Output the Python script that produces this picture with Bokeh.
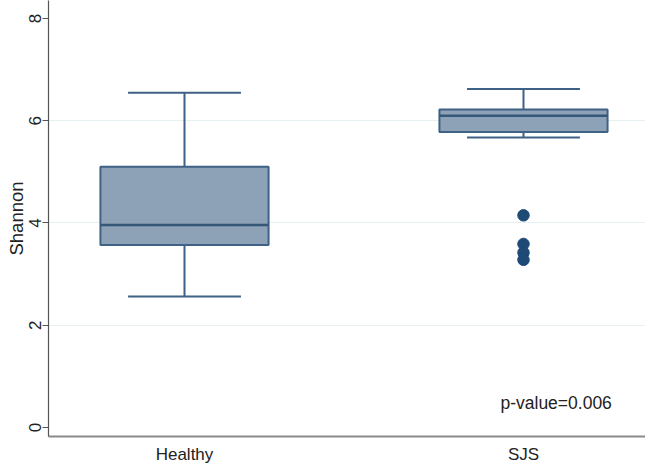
from bokeh.plotting import figure
from bokeh.models import FixedTicker, Range1d, ColumnDataSource
from bokeh.core.properties import value
from bokeh.embed import file_html
from bokeh.resources import INLINE

# ---- data ----
categories = ["Healthy", "SJS"]
whisker_low = [2.56, 5.67]
q1 = [3.57, 5.78]
median = [3.96, 6.10]
q3 = [5.10, 6.22]
whisker_high = [6.55, 6.62]
outlier_group = ["SJS", "SJS", "SJS", "SJS"]
outlier_values = [4.15, 3.59, 3.42, 3.28]
y_ticks = [0, 2, 4, 6, 8]
annotation = "p-value=0.006"

FONT = "Liberation Sans"
LINE = "#3f6185"
FILL = "#8da2b7"
DOT = "#1e4a75"
TXT = "#222222"

pos = {c: i + 1 for i, c in enumerate(categories)}
xs = [pos[c] for c in categories]

p = figure(frame_width=597, frame_height=436, output_backend="svg", toolbar_location=None,
           x_range=Range1d(0.5988, 2.3599), y_range=Range1d(-0.176, 8.352),
           min_border_left=48, min_border_right=0, min_border_top=0, min_border_bottom=22)
p.outline_line_color = None
p.background_fill_color = "white"
p.border_fill_color = "white"

box_w = 0.496
cap_w = 0.333
src = ColumnDataSource(dict(
    x=xs, lo=whisker_low, q1=q1, med=median, q3=q3, hi=whisker_high,
    cl=[x - cap_w / 2 for x in xs], cr=[x + cap_w / 2 for x in xs],
    bl=[x - box_w / 2 for x in xs], br=[x + box_w / 2 for x in xs]))

# whiskers
p.segment(x0="x", y0="q3", x1="x", y1="hi", source=src, line_color=LINE, line_width=2)
p.segment(x0="x", y0="lo", x1="x", y1="q1", source=src, line_color=LINE, line_width=2)
# caps
p.segment(x0="cl", y0="hi", x1="cr", y1="hi", source=src, line_color=LINE, line_width=2)
p.segment(x0="cl", y0="lo", x1="cr", y1="lo", source=src, line_color=LINE, line_width=2)
# box
p.vbar(x="x", width=box_w, bottom="q1", top="q3", source=src,
       fill_color=FILL, line_color=LINE, line_width=2)
# median
p.segment(x0="bl", y0="med", x1="br", y1="med", source=src, line_color="#355879", line_width=2.5)

# outliers
p.scatter(x=[pos[g] for g in outlier_group], y=outlier_values, size=11.5,
          fill_color=DOT, line_color=DOT)

# annotation
p.text(x=[1.932], y=[0.48], text=[annotation], text_font_size="17.5px",
       text_font=value(FONT), text_align="left", text_baseline="middle",
       text_color=TXT)

# axes
p.xaxis.ticker = FixedTicker(ticks=xs)
p.xaxis.major_label_overrides = {pos[c]: c for c in categories}
p.xaxis.major_tick_line_color = None
p.xaxis.minor_tick_line_color = None
p.xaxis.axis_line_color = "#8a8a8a"
p.xaxis.axis_line_width = 2
p.xaxis.major_label_text_font = FONT
p.xaxis.major_label_text_font_size = "17px"
p.xaxis.major_label_text_color = TXT
p.xaxis.major_label_standoff = 2

p.yaxis.ticker = FixedTicker(ticks=y_ticks)
p.yaxis.minor_tick_line_color = None
p.yaxis.major_tick_out = 6
p.yaxis.major_tick_in = 0
p.yaxis.major_tick_line_color = "#555555"
p.yaxis.axis_line_color = "#555555"
p.yaxis.axis_line_width = 1.2
p.yaxis.major_label_orientation = "vertical"
p.yaxis.major_label_text_font = FONT
p.yaxis.major_label_text_font_size = "17px"
p.yaxis.major_label_text_color = TXT
p.yaxis.major_label_standoff = 1
p.yaxis.axis_label = "Shannon"
p.yaxis.axis_label_text_font = FONT
p.yaxis.axis_label_text_font_size = "18.5px"
p.yaxis.axis_label_text_font_style = "normal"
p.yaxis.axis_label_text_color = TXT
p.yaxis.axis_label_standoff = 0

p.xgrid.grid_line_color = None
p.ygrid.ticker = FixedTicker(ticks=[2, 4, 6])
p.ygrid.grid_line_color = "#e6eff1"
p.ygrid.grid_line_width = 1

open("out.html", "w").write(file_html(p, INLINE))
